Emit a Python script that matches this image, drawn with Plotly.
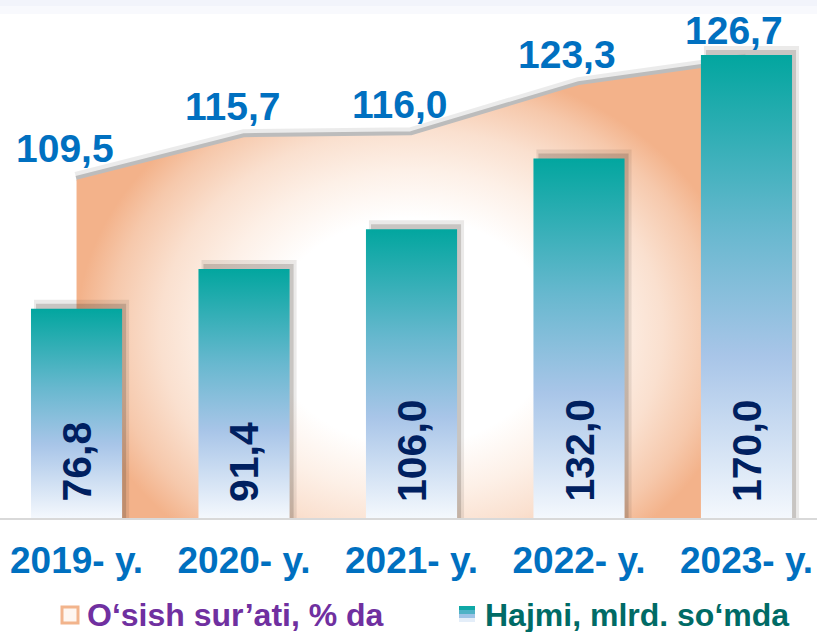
import plotly.graph_objects as go

# Data
years = ["2019- y.", "2020- y.", "2021- y.", "2022- y.", "2023- y."]
volume = [76.8, 91.4, 106.0, 132.0, 170.0]      # Hajmi, mlrd. so'mda
growth = [109.5, 115.7, 116.0, 123.3, 126.7]    # O'sish sur'ati, % da

W, H = 817, 632
plot_h = 518
x_range = [-0.457, 4.421]
growth_range = [60.2, 135.7]
volume_range = [0, 190.2]
gradient_base = 48   # area polygon runs below the visible floor so the glow sits lower

# pixel -> data unit helpers
px_x = (x_range[1] - x_range[0]) / W
px_y = (volume_range[1] - volume_range[0]) / plot_h
half_w = 0.272

FONT = "Arial, Liberation Sans, sans-serif"


def fmt(v):
    return f"{v:.1f}".replace(".", ",")


xs = list(range(len(years)))
fig = go.Figure()

# soft shadow along the top edge of the area
fig.add_trace(go.Scatter(x=xs, y=growth, mode="lines", hoverinfo="skip", showlegend=False,
                         line=dict(color="rgba(0,0,0,0.08)", width=16)))
fig.add_trace(go.Scatter(x=xs, y=growth, mode="lines", hoverinfo="skip", showlegend=False,
                         line=dict(color="rgba(0,0,0,0.20)", width=8)))

# growth rate area (radial gradient)
fig.add_trace(go.Scatter(x=[xs[0], xs[-1]], y=[gradient_base] * 2, mode="lines",
                         line=dict(width=0), hoverinfo="skip", showlegend=False))
fig.add_trace(go.Scatter(
    x=xs, y=growth, mode="lines", line=dict(width=0), fill="tonexty",
    fillgradient=dict(type="radial", colorscale=[
        [0, "#FFFFFF"], [0.42, "#FFFFFF"], [0.6, "#FDF0E7"], [0.75, "#FAE0CF"],
        [0.9, "#F6C8AB"], [1, "#F3B28A"]]),
    name="O‘sish sur’ati, % da", showlegend=False))

# volume bars with drop shadow and vertical gradient
for i, v in enumerate(volume):
    for dl, dr, dt, a in [(3, 7, 9, 0.10), (5, 4, 5, 0.20)]:
        x0, x1 = i - half_w + dl * px_x, i + half_w + dr * px_x
        top = v + dt * px_y
        fig.add_trace(go.Scatter(
            x=[x0, x1, x1, x0, x0], y=[0, 0, top, top, 0], yaxis="y2",
            mode="lines", line=dict(width=0), fill="toself",
            fillcolor=f"rgba(60,50,40,{a})", hoverinfo="skip", showlegend=False))
    x0, x1 = i - half_w, i + half_w
    fig.add_trace(go.Scatter(
        x=[x0, x1, x1, x0, x0], y=[0, 0, v, v, 0], yaxis="y2",
        mode="lines", line=dict(width=0), fill="toself",
        fillgradient=dict(type="vertical", colorscale=[
            [0, "#F4F8FD"], [0.35, "#A8C5E8"], [0.62, "#68B8CF"], [1, "#02A69F"]]),
        name="Hajmi, mlrd. so‘mda", hoverinfo="skip", showlegend=False))

annotations = []
for i, g in enumerate(growth):
    annotations.append(dict(
        x=i, y=g, xref="x", yref="y", text=fmt(g), showarrow=False,
        xshift=-12, yshift=31, yanchor="middle",
        font=dict(family=FONT, size=39, color="#0070C0", weight="bold")))
for i, v in enumerate(volume):
    annotations.append(dict(
        x=i, y=0, xref="x", yref="y2", text=fmt(v), showarrow=False,
        textangle=-90, yanchor="bottom", yshift=14,
        font=dict(family=FONT, size=41, color="#002060", weight="bold")))


def py(p):
    return (plot_h - p) / plot_h


# legend texts
annotations.append(dict(x=85 / W, y=py(615), xref="paper", yref="paper", xanchor="left",
                        yanchor="middle", showarrow=False, text="O‘sish sur’ati, % da",
                        font=dict(family=FONT, size=32, color="#7030A0", weight="bold")))
annotations.append(dict(x=483 / W, y=py(615), xref="paper", yref="paper", xanchor="left",
                        yanchor="middle", showarrow=False, text="Hajmi, mlrd. so‘mda",
                        font=dict(family=FONT, size=32, color="#006B66", weight="bold")))

shapes = [
    # faint band at the top
    dict(type="rect", xref="paper", yref="paper", x0=0, x1=1, y0=py(14), y1=1,
         fillcolor="#F8F9FD", line=dict(width=0), layer="below"),
    dict(type="rect", xref="paper", yref="paper", x0=0, x1=1, y0=py(6), y1=1,
         fillcolor="#F2F4FB", line=dict(width=0), layer="below"),
    # legend swatches
    dict(type="rect", xref="paper", yref="paper", x0=62 / W, x1=78 / W, y0=py(623), y1=py(607),
         fillcolor="#FEF6F0", line=dict(color="#F2B48C", width=3)),
]
for k, c in enumerate(["#0FA8A6", "#4FB2C6", "#9DC3E6", "#E4EEF9"]):
    shapes.append(dict(type="rect", xref="paper", yref="paper", x0=459 / W, x1=475 / W,
                       y0=py(606 + 4 * (k + 1)), y1=py(606 + 4 * k),
                       fillcolor=c, line=dict(width=0)))

fig.update_layout(
    width=W, height=H, autosize=False,
    margin=dict(l=0, r=0, t=0, b=H - plot_h, pad=0),
    paper_bgcolor="white", plot_bgcolor="rgba(0,0,0,0)",
    showlegend=False,
    xaxis=dict(range=x_range, tickmode="array", tickvals=xs, ticktext=years,
               showgrid=False, zeroline=False, showline=True, linecolor="#D9D9D9",
               linewidth=2, ticks="", ticklabelstandoff=9,
               tickfont=dict(family=FONT, size=37, color="#0070C0", weight="bold")),
    yaxis=dict(range=growth_range, visible=False, showgrid=False, zeroline=False),
    yaxis2=dict(range=volume_range, overlaying="y", visible=False,
                showgrid=False, zeroline=False),
    annotations=annotations,
    shapes=shapes,
)

# drop the default page margin so the chart sits at the window's top-left corner
fig.write_html("out.html", config={"displayModeBar": False},
               post_script="document.body.style.margin='0';")
